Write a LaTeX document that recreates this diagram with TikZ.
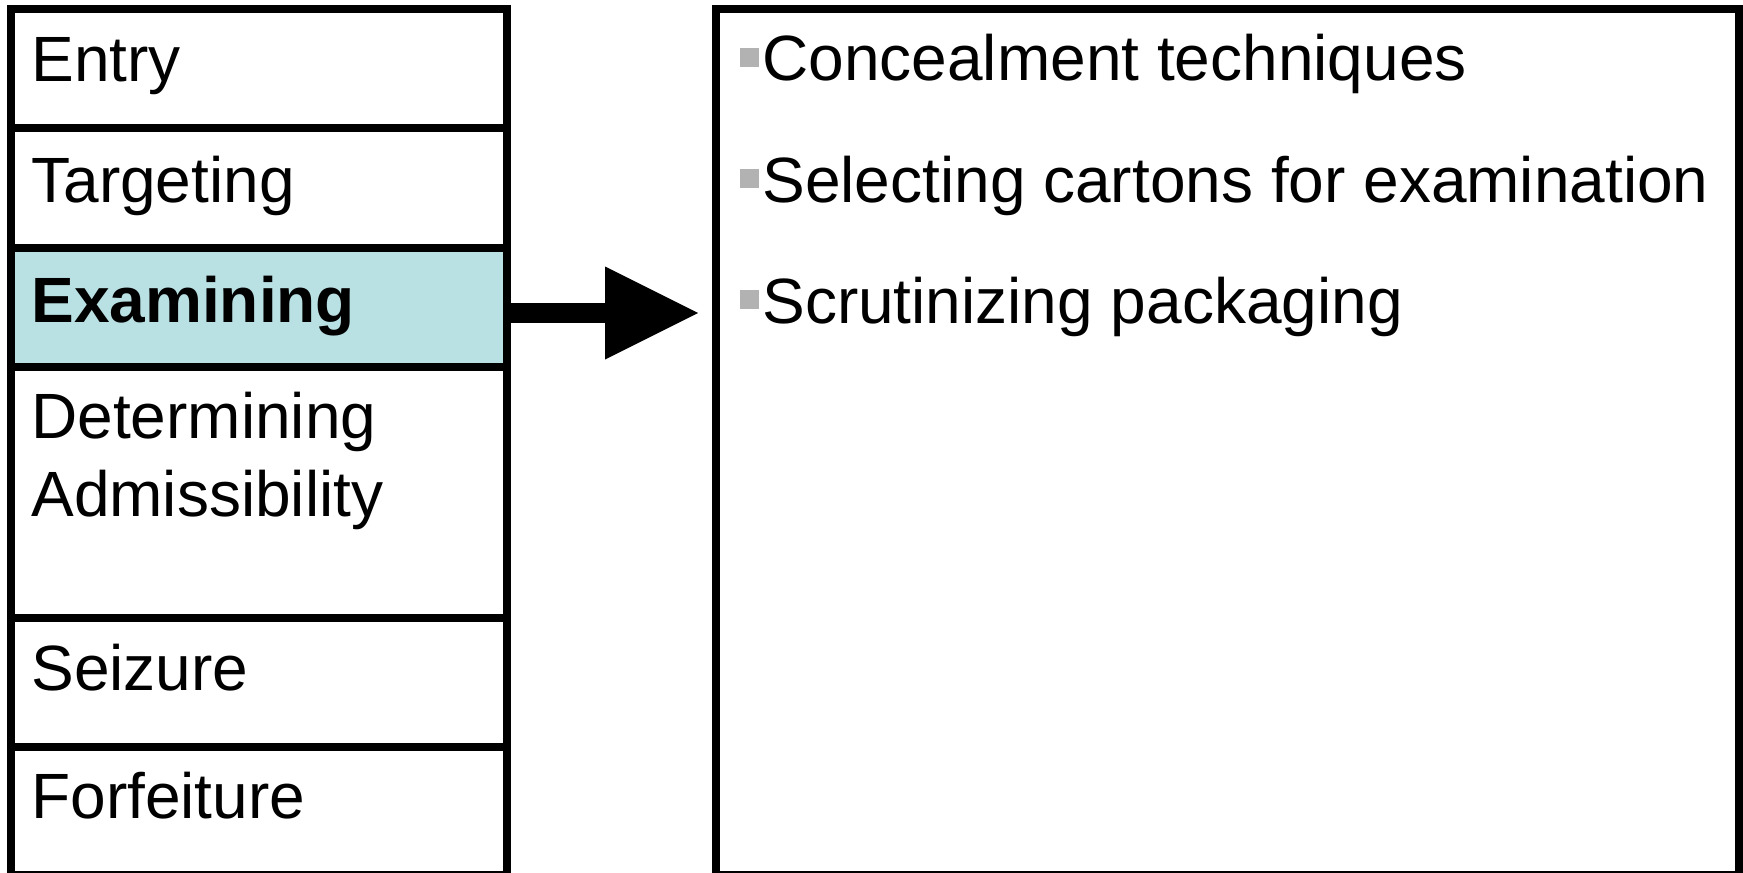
\documentclass[tikz,border=0pt]{standalone}
\usepackage{fontspec}
\setmainfont{Liberation Sans}
\usetikzlibrary{arrows.meta}

\definecolor{examfill}{RGB}{185,224,227}
\definecolor{bulletgray}{RGB}{178,178,178}

\tikzset{
  stagebox/.style={draw, rectangle, line width=4pt, outer sep=2pt, inner sep=0pt, anchor=north west, minimum width=248pt},
  stagetext/.style={anchor=base west, inner sep=0pt, font=\fontsize{32}{39}\selectfont},
  pointtext/.style={anchor=base west, inner sep=0pt, font=\fontsize{32}{39}\selectfont},
  blockarrow/.style={line width=10pt, -{Triangle[length=46.5pt,width=46.5pt,line width=0pt]}},
}
\newcommand{\greybullet}{{\color{bulletgray}\rule[7pt]{9.5pt}{9.5pt}}\hspace{1.5pt}}

\begin{document}
\begin{tikzpicture}[x=0.5pt,y=0.5pt,yscale=-1,xscale=1]
\useasboundingbox (0,0) rectangle (1743,872);

%Shape: Rectangle [stages]
\node[stagebox, minimum height=59.5pt] (entry) at (7,5) {};
\node[stagebox, minimum height=60pt] (target) at (7,124) {};
\node[stagebox, minimum height=59.5pt, fill=examfill] (exam) at (7,244) {};
\node[stagebox, minimum height=125.5pt] (admiss) at (7,363) {};
\node[stagebox, minimum height=64.5pt] (seize) at (7,614) {};
\node[stagebox, minimum height=64pt] (forfeit) at (7,743) {};
%Shape: Rectangle [detail]
\node[stagebox, minimum width=511.5pt, minimum height=433pt] (detail) at (712,5) {};

% Text Node
\node[stagetext] (entrylbl) at (31,82) {Entry};
% Text Node
\node[stagetext] (targetlbl) at (31,202) {Targeting};
% Text Node
\node[stagetext, font=\fontsize{32}{39}\selectfont\bfseries] (examlbl) at (31,322) {Examining};
% Text Node (base = last line)
\node[stagetext, align=left] (admisslbl) at (31,516) {Determining\\Admissibility};
% Text Node
\node[stagetext] (seizelbl) at (31,690) {Seizure};
% Text Node
\node[stagetext] (forfeitlbl) at (31,818) {Forfeiture};

% Text Node
\node[pointtext] (point1) at (740,81) {\greybullet Concealment techniques};
% Text Node
\node[pointtext] (point2) at (740,202) {\greybullet Selecting cartons for examination};
% Text Node
\node[pointtext] (point3) at (740,323) {\greybullet Scrutinizing packaging};

%Block Arrow
\draw[blockarrow, shorten >=7pt, transform canvas={yshift=-2.75pt}] (exam.east) -- (exam.east -| detail.west);

\end{tikzpicture}
\end{document}
